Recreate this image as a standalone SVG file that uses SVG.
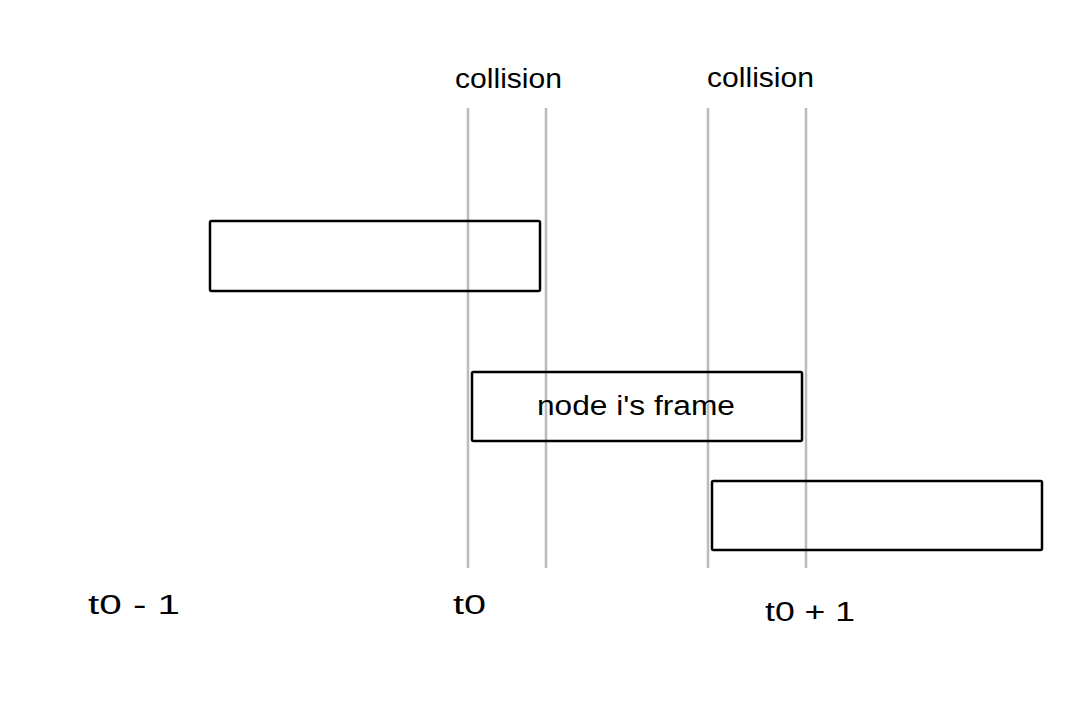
<svg xmlns="http://www.w3.org/2000/svg" width="1080" height="720" viewBox="0 0 1080 720">
<style>
.frame{fill:none;stroke:#000;stroke-width:2.5}
.guide{stroke:#bbb;stroke-width:2.5}
.lbl{font-family:"Liberation Sans","DejaVu Sans",sans-serif;font-size:27px;fill:#000}
</style>
<rect width="1080" height="720" fill="#fff"/>
<g id="connectors">
<line class="guide" x1="468" y1="108" x2="468" y2="568"/>
<line class="guide" x1="546" y1="108" x2="546" y2="568"/>
<line class="guide" x1="708" y1="108" x2="708" y2="568"/>
<line class="guide" x1="806" y1="108" x2="806" y2="568"/>
</g>
<g id="frame-prev"><rect class="frame" x="210" y="221" width="330" height="70" rx="1.5"/></g>
<g id="frame-i"><rect class="frame" x="472" y="372" width="330" height="69" rx="1.5"/><text class="lbl" x="537" y="415" textLength="198" lengthAdjust="spacingAndGlyphs">node i's frame</text></g>
<g id="frame-next"><rect class="frame" x="712" y="481" width="330" height="69" rx="1.5"/></g>
<g id="labels">
<text class="lbl" x="455" y="88" textLength="107" lengthAdjust="spacingAndGlyphs">collision</text>
<text class="lbl" x="707" y="87" textLength="107" lengthAdjust="spacingAndGlyphs">collision</text>
<text class="lbl" x="88" y="614" textLength="92" lengthAdjust="spacingAndGlyphs">t0 - 1</text>
<text class="lbl" x="453" y="614" textLength="33" lengthAdjust="spacingAndGlyphs">t0</text>
<text class="lbl" x="765" y="621" textLength="90" lengthAdjust="spacingAndGlyphs">t0 + 1</text>
</g>
</svg>
